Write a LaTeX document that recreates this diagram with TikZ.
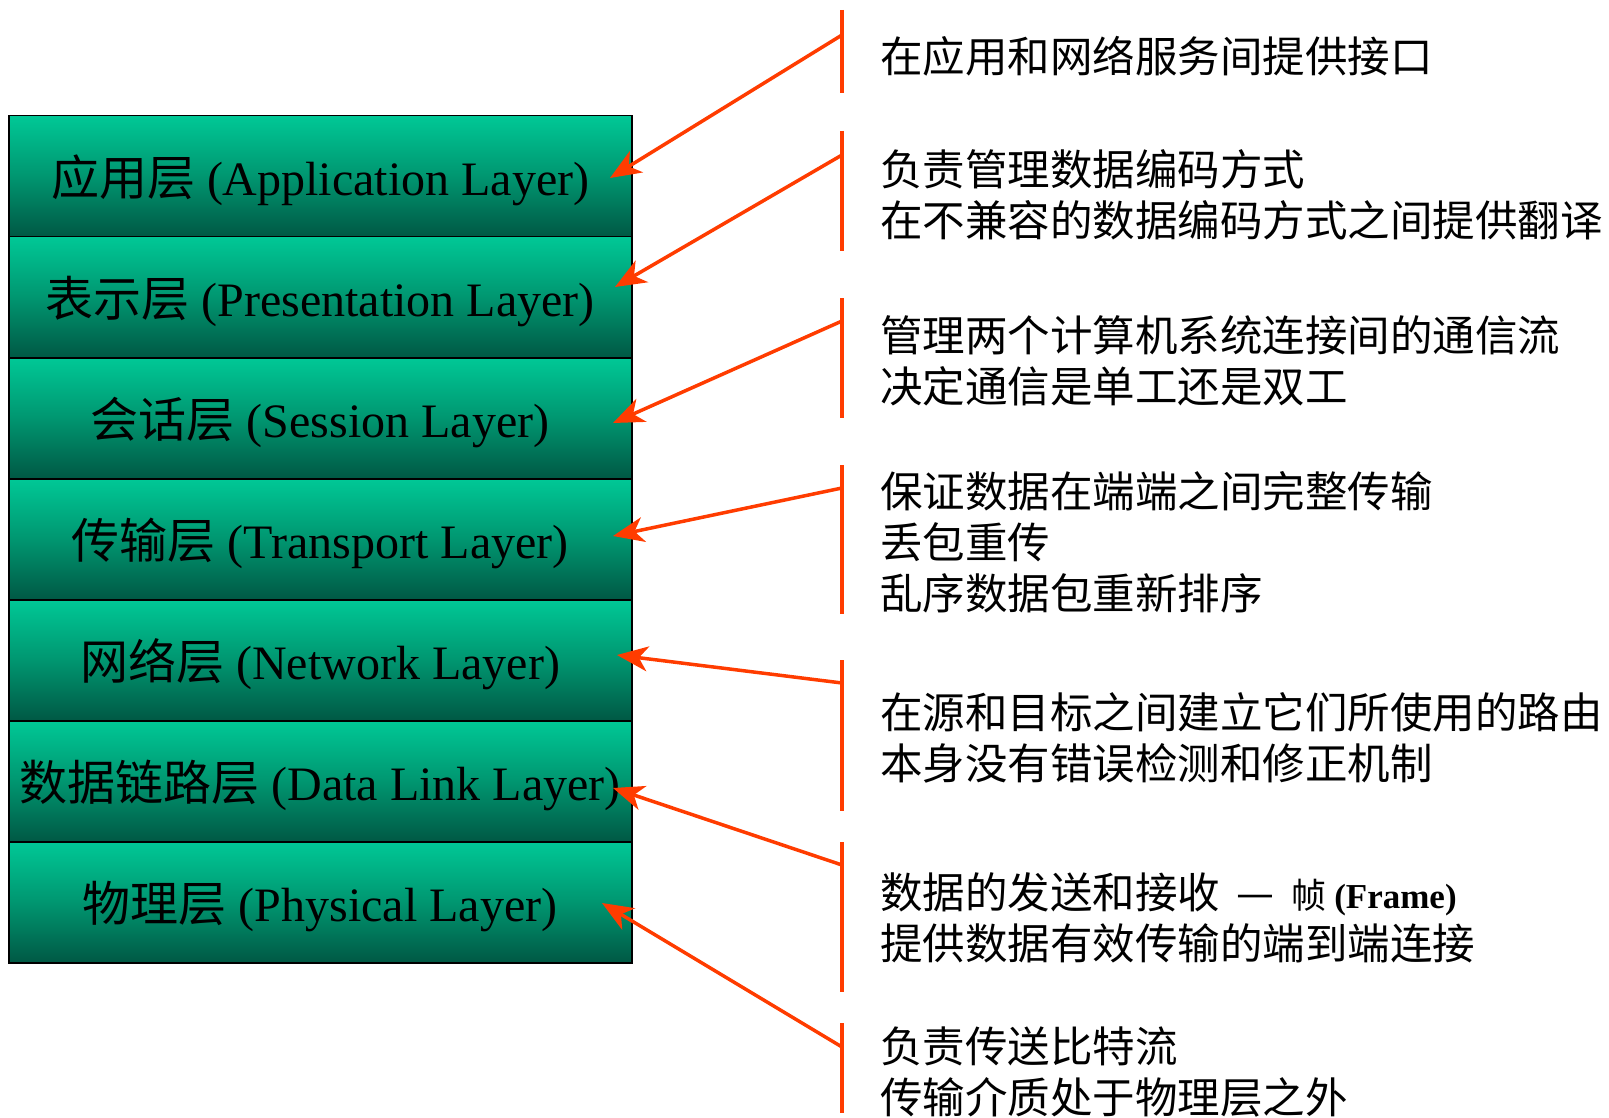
\documentclass[tikz,border=0pt]{standalone}
\usepackage{fontspec}
\setmainfont{Liberation Serif}
\newfontfamily\cjk{Noto Sans CJK SC}
\usetikzlibrary{arrows.meta}
\definecolor{boxtop}{RGB}{0,200,150}
\definecolor{boxmid}{RGB}{0,150,112}
\definecolor{boxbot}{RGB}{0,88,68}
\definecolor{redline}{RGB}{255,60,0}
\begin{document}
\begin{tikzpicture}[x=1pt,y=-1pt,
  layer/.style={draw=black, line width=1.5pt, minimum width=623pt, minimum height=121pt,
    anchor=north west, inner sep=0pt, top color=boxtop, bottom color=boxbot, middle color=boxmid,
    text height=49pt, text depth=10pt,
    font=\fontsize{48}{52}\selectfont},
  desc/.style={anchor=west, align=left, inner sep=0pt, font=\cjk\fontsize{42.5}{51}\selectfont},
  bracketline/.style={draw=redline, line width=3.5pt},
  pointer/.style={draw=redline, line width=3.5pt, -{Stealth[length=31pt,width=25pt,inset=9pt]}}
]
\useasboundingbox (0,0) rectangle (1609,1118);

% layer boxes
\node[layer] (l1) at (8,115) {{\cjk 应用层} (Application Layer)};
\node[layer] (l2) at (8,236) {{\cjk 表示层} (Presentation Layer)};
\node[layer] (l3) at (8,357) {{\cjk 会话层} (Session Layer)};
\node[layer] (l4) at (8,478) {{\cjk 传输层} (Transport Layer)};
\node[layer] (l5) at (8,599) {{\cjk 网络层} (Network Layer)};
\node[layer] (l6) at (8,720) {{\cjk 数据链路层} (Data Link Layer)};
\node[layer] (l7) at (8,841) {{\cjk 物理层} (Physical Layer)};

% vertical bracket lines
\coordinate (v1t) at (842,10);   \coordinate (v1b) at (842,93);
\coordinate (v2t) at (842,131);  \coordinate (v2b) at (842,251);
\coordinate (v3t) at (842,298);  \coordinate (v3b) at (842,418);
\coordinate (v4t) at (842,465);  \coordinate (v4b) at (842,614);
\coordinate (v5t) at (842,660);  \coordinate (v5b) at (842,811);
\coordinate (v6t) at (842,842);  \coordinate (v6b) at (842,992);
\coordinate (v7t) at (842,1023); \coordinate (v7b) at (842,1113);
\foreach \i in {1,...,7} \draw[bracketline] (v\i t) -- (v\i b);

% arrow starts and targets
\coordinate (s1) at (842,35);   \coordinate (t1) at (610,178);
\coordinate (s2) at (842,155);  \coordinate (t2) at (615,287);
\coordinate (s3) at (842,321);  \coordinate (t3) at (613,423);
\coordinate (s4) at (842,488);  \coordinate (t4) at (613,536);
\coordinate (s5) at (842,683);  \coordinate (t5) at (617,655);
\coordinate (s6) at (842,865);  \coordinate (t6) at (613,788);
\coordinate (s7) at (842,1047); \coordinate (t7) at (602,903);
\foreach \i in {1,...,7} \draw[pointer] (s\i) -- (t\i);

% descriptions
\node[desc] (d1) at (880,56) {在应用和网络服务间提供接口};
\node[desc] (d2) at (880,195) {负责管理数据编码方式\\在不兼容的数据编码方式之间提供翻译};
\node[desc] (d3) at (880,361) {管理两个计算机系统连接间的通信流\\决定通信是单工还是双工};
\node[desc] (d4) at (880,542) {保证数据在端端之间完整传输\\丢包重传\\乱序数据包重新排序};
\node[desc] (d5) at (880,738) {在源和目标之间建立它们所使用的路由\\本身没有错误检测和修正机制};
\node[desc] (d6) at (880,918) {数据的发送和接收 \,—\, {\fontsize{35}{51}\selectfont 帧 \rmfamily\bfseries (Frame)}\\提供数据有效传输的端到端连接};
\node[desc] (d7) at (880,1072) {负责传送比特流\\传输介质处于物理层之外};
\end{tikzpicture}
\end{document}
